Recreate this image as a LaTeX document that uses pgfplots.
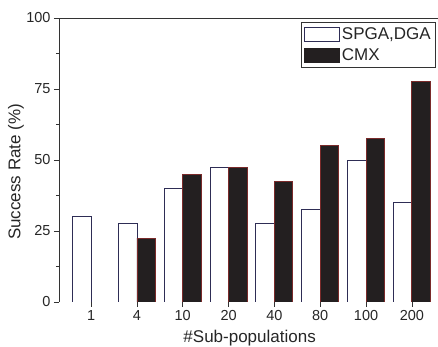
\documentclass[border=0pt]{standalone}
\usepackage{fontspec}
\setmainfont{Liberation Sans}
\usepackage{pgfplots}
\pgfplotsset{compat=1.18}
\definecolor{blackbar}{HTML}{231F20}
\definecolor{rededge}{HTML}{7A2A2A}
\definecolor{navyedge}{HTML}{2E2D55}
\definecolor{axisgray}{HTML}{333333}
\pgfplotsset{
  wideleg/.style={legend image code/.code={\draw[##1] (0pt,-7pt) rectangle (35pt,7pt);}},
  widelegblack/.style={legend image code/.code={\draw[##1,draw=blackbar] (0pt,-7pt) rectangle (35pt,7pt);}},
}
\begin{document}
\begin{tikzpicture}
\path[use as bounding box] (-59pt,-45pt) rectangle (379pt,302pt);
\begin{axis}[
  scale only axis, width=379pt, height=284pt,
  at={(0,0)}, anchor=south west,
  ybar=0pt, bar width=18.5pt,
  xmin=-0.7, xmax=7.57, ymin=0, ymax=100,
  xtick={0,...,7}, xticklabels={1,4,10,20,40,80,100,200},
  ytick={0,25,50,75,100}, minor y tick num=1,
  tick align=outside, tick pos=left,
  major tick length=5pt, minor tick length=3pt,
  tick style={axisgray, line width=0.7pt},
  axis line style={draw=none},
  /pgf/number format/assume math mode=true,
  ticklabel style={font=\fontsize{14.5}{16}\selectfont, text=black!85},
  xlabel={\#Sub-populations},
  ylabel={Success Rate (\%)},
  every axis x label/.style={at={(axis description cs:0.503,-0.144)}, anchor=base, font=\fontsize{17}{19}\selectfont, text=black!85},
  every axis y label/.style={at={(axis description cs:-0.1135,0.458)}, rotate=90, anchor=center, font=\fontsize{17}{19}\selectfont, text=black!85},
  legend style={at={(axis description cs:0.995,0.986)}, anchor=north east, draw=axisgray, line width=0.7pt, font=\fontsize{17}{19}\selectfont, text=black!85, inner xsep=3pt, inner ysep=3pt, row sep=4pt},
  legend cell align=left,
]
\addplot[fill=white, draw=navyedge, line width=0.8pt, wideleg]
  coordinates {(0,30) (1,27.5) (2,40) (3,47.5) (4,27.5) (5,32.5) (6,50) (7,35)};
\addplot[fill=blackbar, draw=rededge, line width=0.8pt, widelegblack]
  coordinates {(1,22.5) (2,45) (3,47.5) (4,42.5) (5,55) (6,57.5) (7,77.5)};
\legend{SPGA{,}DGA, CMX}
\draw[axisgray, line width=0.8pt] (rel axis cs:0,0) -- (rel axis cs:0,1) -- (rel axis cs:1,1);
\draw[black!55, line width=0.8pt] (rel axis cs:0,0) -- (rel axis cs:1,0);
\end{axis}
\end{tikzpicture}
\end{document}
